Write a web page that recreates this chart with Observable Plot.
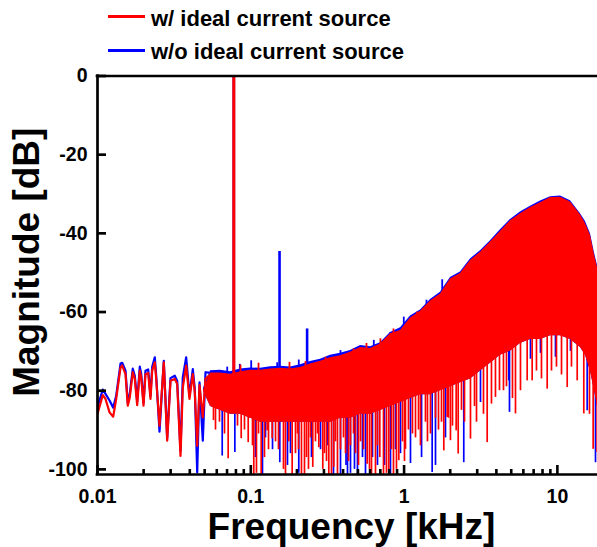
<!DOCTYPE html>
<html><head><meta charset="utf-8">
<script src="https://cdn.jsdelivr.net/npm/d3@7"></script>
<script src="https://cdn.jsdelivr.net/npm/@observablehq/plot@0.6"></script>
<style>
body{margin:0;background:#fff;}
#wrap{position:relative;width:597px;height:547px;font-family:"Liberation Sans",Arial,sans-serif;overflow:hidden}
.lg{position:absolute;left:151px;font-size:22px;font-weight:bold;line-height:22px;white-space:nowrap;color:#000}
.sw{position:absolute;left:108px;width:37px;height:3px}
#chart{position:absolute;left:0;top:0}
</style></head><body>
<div id="wrap">
<div id="chart"></div>
<div class="sw" style="top:15px;background:#ff0000"></div>
<div class="lg" style="top:8px">w/ ideal current source</div>
<div class="sw" style="top:49px;background:#0000ff"></div>
<div class="lg" style="top:41px">w/o ideal current source</div>
</div>
<script>
// ---- series names
const seriesNames = ["w/ ideal current source", "w/o ideal current source"];

// ---- low-frequency resolved part (kHz, dB)
const lowFreq = [0.01, 0.01083, 0.01128, 0.01198, 0.01266, 0.01324, 0.01413, 0.01449, 0.01523, 0.01576,
  0.01624, 0.01699, 0.01751, 0.01815, 0.01887, 0.01928, 0.01996, 0.02056, 0.02141, 0.02217,
  0.02274, 0.02365, 0.02415, 0.02538, 0.02707, 0.02848, 0.02994, 0.03193, 0.03310, 0.03479,
  0.03601, 0.03789, 0.03982, 0.04185, 0.04312, 0.04471, 0.04628, 0.04863, 0.05065, 0.05322];
const lowRed = [-85.9, -81.1, -82.1, -85.5, -86.6, -82.1, -74.1, -73.6, -75.8, -83.8,
  -81.7, -75.3, -77.0, -83.7, -74.9, -76.6, -83.8, -75.8, -75.5, -82.1,
  -74.9, -72.8, -77.0, -88.9, -72.8, -92.7, -77.5, -77.0, -78.3, -96.6,
  -79.2, -73.6, -82.1, -75.8, -80.4, -94.0, -78.6, -86.8, -77.0, -76.2];
const lowBlue = [-84.1, -79.7, -80.8, -82.5, -84.3, -81.3, -73.1, -72.9, -74.9, -83.1,
  -80.8, -74.4, -76.2, -82.8, -73.9, -75.7, -83.1, -74.9, -74.6, -81.3,
  -73.9, -71.5, -76.2, -90.4, -72.4, -92.0, -76.8, -76.2, -77.5, -95.3,
  -76.6, -71.5, -81.3, -74.5, -79.5, -100.8, -77.9, -92.7, -75.3, -75.4];

// ---- dense part: envelopes (kHz, dB)
const bandFreq = [0.0491, 0.0546, 0.0634, 0.0737, 0.0857, 0.0995, 0.1157, 0.1345, 0.1563, 0.1815,
  0.211, 0.245, 0.285, 0.331, 0.385, 0.447, 0.520, 0.604, 0.701, 0.815,
  0.948, 1.101, 1.279, 1.486, 1.727, 2.007, 2.332, 2.71, 3.15, 3.66,
  4.25, 4.94, 5.74, 6.68, 7.76, 9.02, 10.48, 12.18, 14.15, 15.25,
  16.44, 17.46, 18.27];
const redTop = [-80.0, -75.5, -75.5, -75.8, -75.2, -74.8, -74.8, -74.5, -74.3, -74.5,
  -74.1, -73.2, -72.5, -71.6, -71.1, -70.2, -69.0, -69.3, -68.1, -65.5,
  -64.7, -61.5, -59.8, -57.2, -55.4, -51.6, -50.2, -46.9, -44.8, -42.2,
  -39.5, -36.8, -35.0, -33.4, -32.2, -30.9, -30.8, -32.0, -35.3, -37.5,
  -40.5, -45.5, -48.6];
const blueTop = [-79.5, -74.9, -74.8, -75.2, -74.5, -74.2, -74.3, -73.9, -73.8, -74.0,
  -73.4, -72.6, -72.0, -71.0, -70.5, -69.8, -68.5, -68.8, -67.8, -65.2,
  -64.0, -61.0, -59.5, -56.8, -55.0, -51.2, -49.8, -46.5, -44.4, -41.9,
  -39.1, -36.5, -34.6, -33.1, -31.8, -30.7, -30.5, -31.7, -35.0, -37.0,
  -40.1, -45.0, -48.2];
const bandFloor = [-80, -84, -85, -86, -86, -87, -88, -88, -88, -88,
  -88, -88, -88, -88, -87, -87, -86, -86, -85, -84,
  -83, -82, -81, -81, -80, -79, -78, -77, -75, -73,
  -71, -70, -68, -67, -67, -66, -66, -67, -69, -71,
  -75, -80, -84];

// ---- peaks poking above the envelope (kHz, top dB, base dB)
const redUpFreq = [0.0857, 0.1123, 0.1788, 0.2274, 0.3071, 0.4676, 0.5685, 0.701, 0.8528, 1.218];
const redUpTop = [-73.5, -73.0, -72.8, -72.6, -71.5, -69.4, -68.0, -66.8, -64.3, -60.0];
const redUpBase = [-78, -78, -78, -77, -76, -74, -73, -72, -70, -66];
const blueUpFreq = [0.0702, 0.0848, 0.1006, 0.1487, 0.2056, 0.3848, 0.6344, 0.8152, 0.9955, 1.400, 1.773];
const blueUpTop = [-74.0, -73.3, -72.4, -72.9, -72.2, -69.8, -67.2, -65.2, -61.3, -57.0, -51.8];
const blueUpBase = [-79, -78, -78, -78, -77, -75, -73, -71, -68, -62, -58];

// ---- downward spikes (kHz, lowest dB, top dB)
const redSpikeFreq = [0.0571, 0.0712, 0.0866, 0.0962, 0.1046, 0.1169, 0.1279, 0.1379, 0.1684, 0.1770,
  0.1862, 0.2047, 0.2240, 0.2451, 0.2537, 0.2777, 0.2949, 0.3228, 0.3478, 0.3677,
  0.4148, 0.5746, 0.6129, 0.6942, 0.7339, 0.7947, 0.8528, 0.9235, 1.021, 1.134,
  1.279, 1.754, 1.816, 1.911, 1.949, 2.007, 2.069, 2.187, 2.254, 2.368,
  2.478, 2.711, 2.880, 2.968, 3.296, 3.484, 3.716, 3.946, 4.191, 4.450,
  4.656, 5.094, 5.330, 5.746, 6.353, 6.848, 7.305, 7.876, 8.581, 9.154,
  9.866, 10.64, 11.59, 12.36, 13.47, 14.87, 16.20, 17.12, 18.19,
  0.1089, 0.1634, 0.2141, 0.2379, 0.3118, 0.3360, 0.5948, 0.6508, 0.7677, 0.8921,
  0.05885, 0.06249, 0.06737, 0.08189, 0.09097, 0.1305, 0.1450, 0.1957, 0.2642, 0.3848,
  0.4025, 0.4471, 0.4819, 0.520, 0.5436, 0.9762, 1.068, 1.187, 1.379, 1.486, 1.603,
  0.1026, 0.1123, 0.1228, 0.1516, 0.2016, 0.2308, 0.2723, 0.3025, 0.3569, 0.4339,
  0.4676, 0.5042, 0.6707, 0.8276, 1.006, 1.242, 1.421, 1.677];
const redSpikeLow = [-87.6, -97.3, -92.2, -93.2, -102, -102, -90.2, -92.2, -102, -93,
  -102, -95, -102, -92, -99.5, -94.5, -100, -102, -99.5, -102,
  -96, -98.7, -102, -97, -102, -100.4, -102, -97.8, -94.9, -91,
  -94, -88, -95.3, -86.8, -87, -92.7, -89, -90.2, -96.1, -85,
  -88, -92.3, -84, -88, -86, -93.2, -83.4, -81.7, -80, -80,
  -79, -82, -85.9, -80, -77.5, -77.5, -75, -77, -79.6, -75,
  -74, -76, -79.2, -74, -77.5, -85.9, -86, -94.9, -95.7,
  -101, -100, -102, -100, -98, -102, -100, -102, -101, -100,
  -90, -88, -91, -89, -90, -95, -93, -96, -93, -95,
  -92, -94, -96, -93, -95, -93, -90, -92, -88, -91, -87,
  -94, -91, -97, -95, -91, -97, -91, -96, -93, -98,
  -91, -99, -94, -95, -98, -90, -93, -90];
const redSpikeHigh = [-84, -85, -86, -86, -86, -86, -86, -86, -86, -86,
  -86, -86, -86, -86, -86, -86, -86, -86, -86, -86,
  -86, -85, -85, -84, -84, -83, -83, -82, -81, -80,
  -80, -79, -78, -78, -78, -78, -77, -77, -76, -76,
  -75, -75, -74, -74, -73, -72, -72, -71, -70, -70,
  -69, -68, -67, -67, -66, -66, -66, -66, -65, -65,
  -65, -65, -66, -66, -67, -68, -72, -76, -82,
  -86, -86, -86, -86, -86, -86, -85, -85, -84, -83,
  -84, -85, -85, -86, -86, -86, -86, -86, -86, -86,
  -86, -86, -86, -86, -85, -82, -81, -80, -80, -80, -79,
  -86, -86, -86, -86, -86, -86, -86, -86, -86, -86,
  -86, -86, -85, -83, -82, -80, -80, -79];
const blueSpikeFreq = [0.0651, 0.0787, 0.1192, 0.1546, 0.2056, 0.3463, 0.3848, 0.4274, 0.4471, 0.4748,
  0.4966, 0.5601, 0.8152, 1.101, 1.525, 1.603, 2.451, 3.151, 4.82, 4.871,
  6.676, 7.759, 9.719, 12.18, 15.65, 17.73,
  0.1247, 0.1815, 0.285, 0.418, 0.6222, 0.6707, 0.8788, 1.30,
  0.1073, 0.1386, 0.1735, 0.2488, 0.3165, 0.5355, 0.7450, 0.9473, 1.862];
const blueSpikeLow = [-96.6, -95.7, -102, -98.3, -101, -102, -102, -102, -101, -100,
  -102, -102, -102, -98.5, -100.8, -99, -98.3, -83, -77.5, -85.5,
  -72, -70.5, -71.5, -70, -85.1, -98.3,
  -92, -96, -95, -99, -97, -99, -95, -97,
  -97, -95, -99, -97, -94, -97, -99, -96, -92];
const blueSpikeHigh = [-85, -86, -86, -86, -86, -86, -86, -86, -86, -86,
  -86, -85, -83, -81, -79, -79, -75, -73, -68, -68,
  -66, -66, -65, -66, -68, -78,
  -86, -86, -86, -86, -85, -85, -83, -80,
  -86, -86, -86, -86, -86, -85, -84, -82, -78];

// ---- tones rising above the noise (kHz, top dB)
const redToneFreq = [0.0775];
const redToneTop = [0];
const blueToneFreq = [0.0775, 0.1540, 0.2330];
const blueToneTop = [0, -44.6, -64.3];
const toneBase = -80;

// ---- axes
const yTicks = [0, -20, -40, -60, -80, -100];
const yTickLabels = ["0", "-20", "-40", "-60", "-80", "-100"];
const xTicks = [0.01, 0.1, 1, 10];
const xTickLabels = ["0.01", "0.1", "1", "10"];
const xLabel = "Frequency [kHz]";
const yLabel = "Magnitude [dB]";

const RED = "#ff0000", BLUE = "#0000ff";
const yMin = -101.3;
const mT = 75.5, mB = 73, mL = 97, W = 597, Hgt = 547;
const frameH = Hgt - mT - mB, frameW = W - mL;

const low = lowFreq.map((f, i) => ({f, red: lowRed[i], blue: lowBlue[i]}));
const band = bandFreq.map((f, i) => ({f, rt: redTop[i], bt: blueTop[i], fl: bandFloor[i]}));
const rSp = redSpikeFreq.map((f, i) => ({f, lo: redSpikeLow[i], hi: redSpikeHigh[i]}));
const bSp = blueSpikeFreq.map((f, i) => ({f, lo: blueSpikeLow[i], hi: blueSpikeHigh[i]}));
const rUp = redUpFreq.map((f, i) => ({f, lo: redUpBase[i], hi: redUpTop[i]}));
const bUp = blueUpFreq.map((f, i) => ({f, lo: blueUpBase[i], hi: blueUpTop[i]}));
const rTone = redToneFreq.map((f, i) => ({f, lo: toneBase, hi: redToneTop[i]}));
const bTone = blueToneFreq.map((f, i) => ({f, lo: toneBase, hi: blueToneTop[i]}));
const minorIn = [];
for (const d of [0.01, 0.1, 1]) for (let k = 2; k <= 9; k++) minorIn.push(d * k);

const bold = {fontWeight: "bold", fill: "black"};
const chart = Plot.plot({
  width: W, height: Hgt,
  marginLeft: mL, marginRight: 0, marginTop: mT, marginBottom: mB,
  x: {type: "log", domain: [0.01, 18.27], axis: null},
  y: {domain: [yMin, 0], axis: null},
  style: {fontFamily: "'Liberation Sans', Arial, sans-serif", background: "transparent", overflow: "visible"},
  marks: [
    // blue (w/o ideal current source)
    Plot.line(low, {x: "f", y: "blue", stroke: BLUE, strokeWidth: 2.2, clip: true}),
    Plot.areaY(band, {x: "f", y1: "fl", y2: "bt", fill: BLUE, clip: true}),
    Plot.ruleX(bSp, {x: "f", y1: "lo", y2: "hi", stroke: BLUE, strokeWidth: 1.7, clip: true}),
    Plot.ruleX(bUp, {x: "f", y1: "lo", y2: "hi", stroke: BLUE, strokeWidth: 1.8, clip: true}),
    Plot.ruleX(bTone, {x: "f", y1: "lo", y2: "hi", stroke: BLUE, strokeWidth: 2.6, clip: true}),
    // red (w/ ideal current source)
    Plot.line(low, {x: "f", y: "red", stroke: RED, strokeWidth: 2.2, clip: true}),
    Plot.areaY(band, {x: "f", y1: "fl", y2: "rt", fill: RED, clip: true}),
    Plot.ruleX(rSp, {x: "f", y1: "lo", y2: "hi", stroke: RED, strokeWidth: 1.7, clip: true}),
    Plot.ruleX(rUp, {x: "f", y1: "lo", y2: "hi", stroke: RED, strokeWidth: 1.8, clip: true}),
    Plot.ruleX(rTone, {x: "f", y1: "lo", y2: "hi", stroke: RED, strokeWidth: 3, clip: true}),
    // frame (left, top, bottom)
    Plot.ruleY([0], {stroke: "black", strokeWidth: 2.7, strokeLinecap: "square"}),
    Plot.ruleY([yMin], {stroke: "black", strokeWidth: 2.7, strokeLinecap: "square"}),
    Plot.ruleX([0.01], {stroke: "black", strokeWidth: 2.7, strokeLinecap: "square"}),
    // ticks (inward)
    Plot.tickY(yTicks, {y: d => d, insetRight: frameW - 9, stroke: "black", strokeWidth: 2.7}),
    Plot.tickX(xTicks, {x: d => d, insetTop: frameH - 9, stroke: "black", strokeWidth: 2.6}),
    Plot.tickX(minorIn, {x: d => d, insetTop: frameH - 5, stroke: "black", strokeWidth: 2.6}),
    // tick labels
    Plot.text(yTicks, {y: d => d, text: (d, i) => yTickLabels[i], frameAnchor: "left", textAnchor: "end", lineAnchor: "middle", dx: -10, fontSize: 19.5, ...bold}),
    Plot.text(xTicks, {x: d => d, text: (d, i) => xTickLabels[i], frameAnchor: "bottom", textAnchor: "middle", lineAnchor: "middle", dy: 22, fontSize: 19.5, ...bold}),
    // axis titles
    Plot.text([xLabel], {text: d => d, frameAnchor: "bottom", textAnchor: "middle", lineAnchor: "middle", dx: 4, dy: 53, fontSize: 37, ...bold}),
    Plot.text([yLabel], {text: d => d, frameAnchor: "left", textAnchor: "middle", lineAnchor: "middle", dx: -70, dy: -13, rotate: -90, fontSize: 37, ...bold})
  ]
});
document.getElementById("chart").appendChild(chart);
</script>
</body></html>
